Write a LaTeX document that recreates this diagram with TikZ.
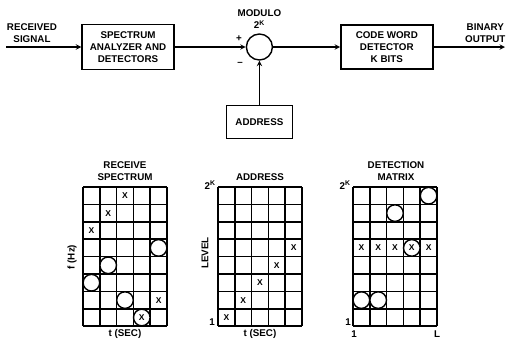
\documentclass[tikz,border=0pt]{standalone}
\usepackage{fontspec}
\setmainfont{Liberation Sans}
\usetikzlibrary{arrows,positioning}

% cell marks: grid left x, column, row
\newcommand{\gridX}[3]{\node[xmark] (x-#1-#2-#3) at (#1+#2*16.8-8.4,187+#3*17.4-8.7) {X};}
\newcommand{\gridO}[3]{\draw[omark] (#1+#2*16.8-8.4,187+#3*17.4-8.7) circle (8.3);}

\begin{document}
\begin{tikzpicture}[
    x=1pt, y=-1pt,
    every node/.style={font=\fontsize{9.8}{12.3}\selectfont\bfseries, align=center},
    box/.style={rectangle, draw=black, line width=1.4pt, minimum width=92pt, minimum height=45pt, inner sep=0pt},
    sumnode/.style={circle, draw=black, line width=1.4pt, minimum size=26pt, inner sep=0pt},
    signal/.style={->, line width=1.4pt, >=stealth},
    gridline/.style={line width=1.5pt},
    xmark/.style={font=\fontsize{8.5}{9}\selectfont\bfseries, inner sep=0pt},
    omark/.style={line width=1.4pt, fill=white}
]
\useasboundingbox (0,0) rectangle (506,346);

% Main chain
\node[box] (spec) at (128,47) {SPECTRUM\\ANALYZER AND\\DETECTORS};
\node[sumnode, right=71pt of spec] (sum) {};
\node[box, right=67pt of sum, minimum height=44pt] (code) {CODE WORD\\DETECTOR\\K BITS};
\node[box, below=44pt of sum, minimum width=66pt, minimum height=33pt] (addr) {ADDRESS};

% Labels round the chain
\node (insig) at (32,33) {RECEIVED\\SIGNAL};
\node[anchor=east] (outsig) at (509,33) {BINARY\\OUTPUT};
\node[above=1pt of sum] (modulo) {MODULO\\2\textsuperscript{K}};
\node (plus) at (239,39) {+};
\node (minus) at (240,64) {--};
\coordinate (in) at (6,47);
\coordinate (out) at (505,47);

% Arrows
\draw[signal] (in) -- (spec);
\draw[signal] (spec) -- (sum);
\draw[signal] (sum) -- (code);
\draw[signal] (code) -- (out);
\draw[signal] (addr) -- (sum);

% Grids
\foreach \gx in {83,218,353} {
  \foreach \i in {0,...,5} \draw[gridline] (\gx+\i*16.8,187) -- (\gx+\i*16.8,326.2);
  \foreach \j in {0,...,8} \draw[gridline] (\gx,187+\j*17.4) -- (\gx+84,187+\j*17.4);
}

% Receive spectrum
\node (spectitle) at (125,171) {RECEIVE\\SPECTRUM};
\node[rotate=90] (freq) at (72,257) {f (Hz)};
\node (spectime) at (125,334) {t (SEC)};
\gridX{83}{3}{1}
\gridX{83}{2}{2}
\gridX{83}{1}{3}
\gridO{83}{5}{4}
\gridO{83}{2}{5}
\gridO{83}{1}{6}
\gridO{83}{3}{7}
\gridX{83}{5}{7}
\gridO{83}{4}{8}
\gridX{83}{4}{8}

% Address
\node (addrtitle) at (260,177) {ADDRESS};
\node[rotate=90] (level) at (205,253) {LEVEL};
\node (addrtime) at (260,334) {t (SEC)};
\node (addrtop) at (210,185) {2\textsuperscript{K}};
\node (addrone) at (212,322) {1};
\gridX{218}{1}{8}
\gridX{218}{2}{7}
\gridX{218}{3}{6}
\gridX{218}{4}{5}
\gridX{218}{5}{4}

% Detection matrix
\node (dettitle) at (396,171) {DETECTION\\MATRIX};
\node (dettop) at (345,185) {2\textsuperscript{K}};
\node (detone) at (348,322) {1};
\node (detfirst) at (354,334) {1};
\node (detlast) at (437,334) {L};
\gridO{353}{5}{1}
\gridO{353}{3}{2}
\gridO{353}{4}{4}
\foreach \c in {1,...,5} {\gridX{353}{\c}{4}}
\gridO{353}{1}{7}
\gridO{353}{2}{7}

\end{tikzpicture}
\end{document}
